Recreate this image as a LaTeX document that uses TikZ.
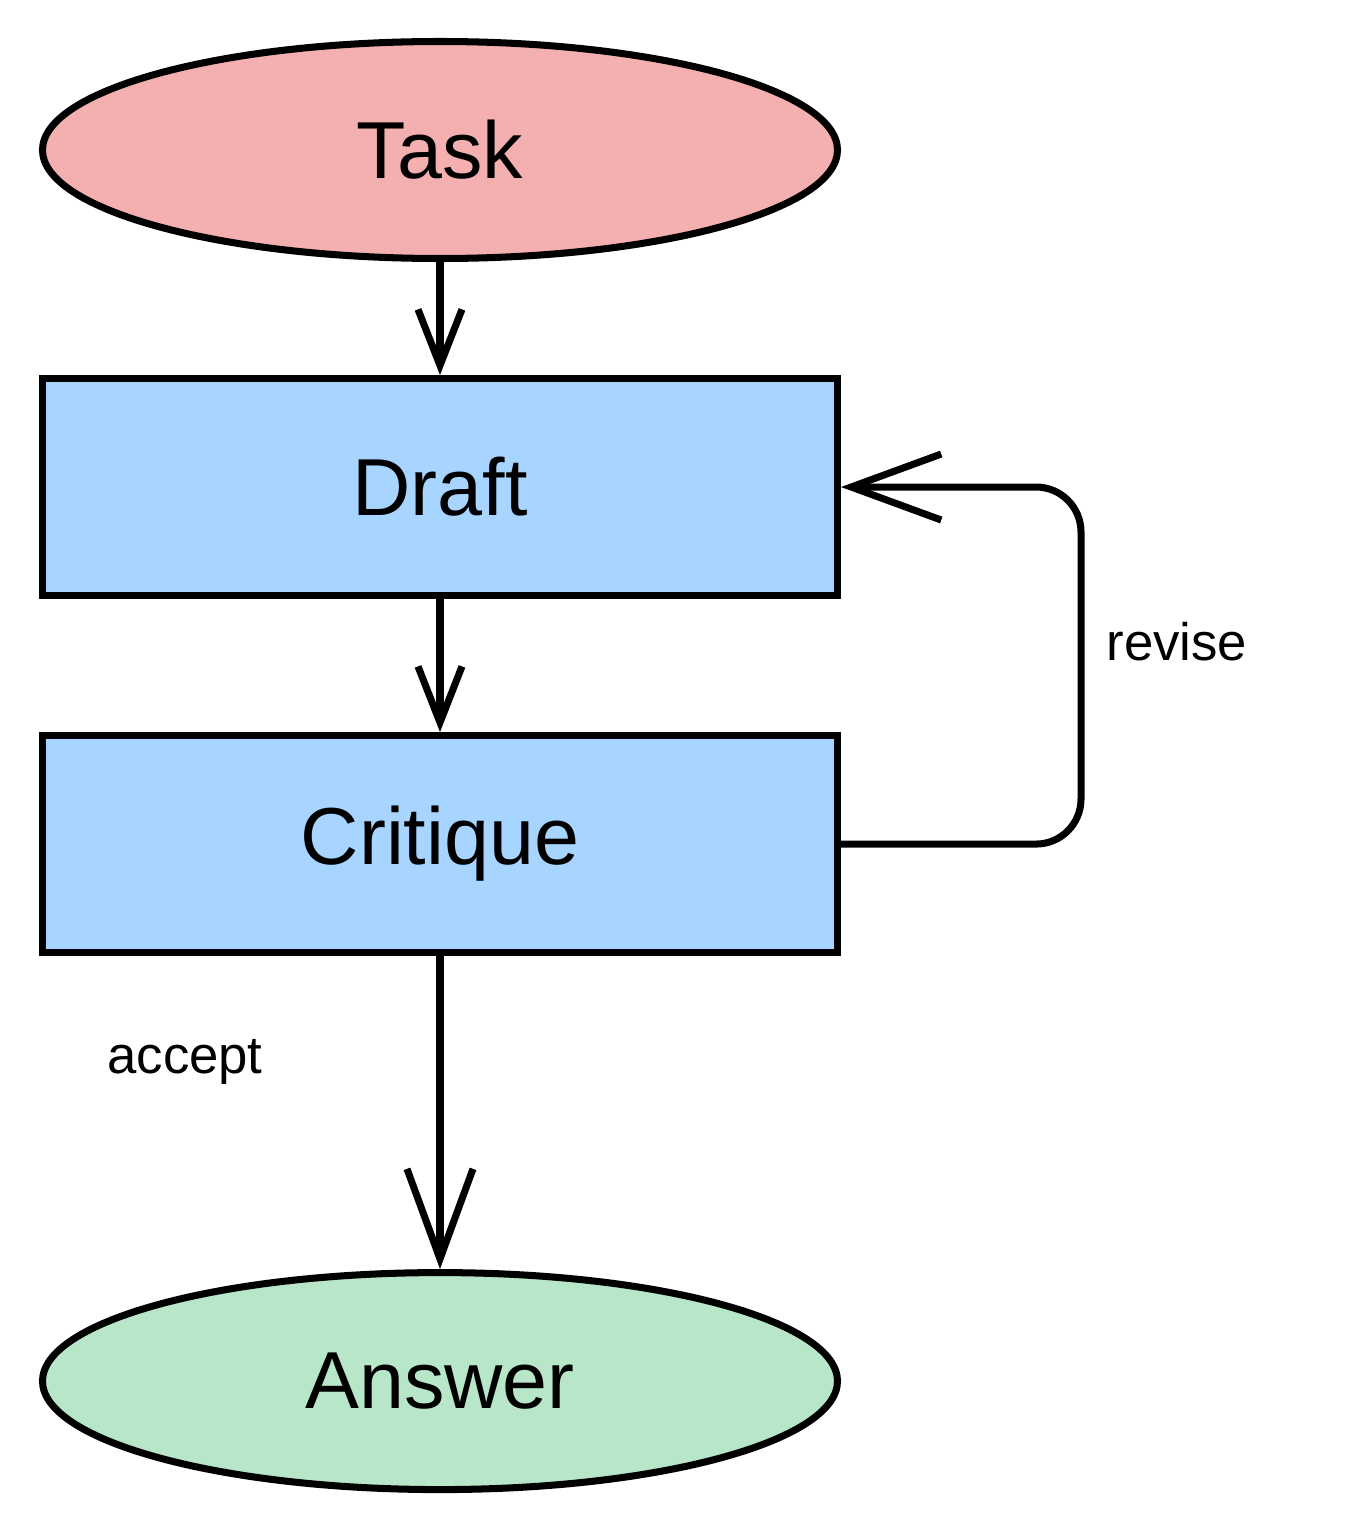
\documentclass[tikz,border=0pt]{standalone}
\usepackage{fontspec}
\setmainfont{Liberation Sans}
\usetikzlibrary{shapes.geometric}
\usetikzlibrary{arrows.meta}
\usetikzlibrary{positioning}
\definecolor{taskred}{HTML}{F4B0B0}
\definecolor{stepblue}{HTML}{A8D5FF}
\definecolor{answergreen}{HTML}{B8E6C8}
\tikzset{
	terminal/.style={ellipse, draw, line width=2pt, minimum width=7.95cm, minimum height=2.17cm, inner sep=0pt, font=\fontsize{23}{28}\selectfont},
	stage/.style={rectangle, draw, line width=2pt, fill=stepblue, minimum width=7.95cm, minimum height=2.17cm, inner sep=0pt, font=\fontsize{23}{28}\selectfont},
	arrow/.style={draw, line width=2pt, -{Straight Barb[length=5.6mm, width=4.4mm]}},
	bigarrow/.style={draw, line width=2pt, -{Straight Barb[length=9mm, width=6.6mm]}, rounded corners=0.45cm},
	edgelabel/.style={font=\fontsize{15}{18}\selectfont}
}
\begin{document}
\begin{tikzpicture}
\useasboundingbox (0,0) rectangle (13.48,15.4);
\node[terminal, fill=taskred] (task) at (4.4,13.9) {Task};

\node[stage, below = 1.13cm of task] (draft) {Draft};
\node[stage, below = 1.33cm of draft] (critique) {Critique};

\node[terminal, fill=answergreen, below = 3.13cm of critique] (answer) {Answer};

\coordinate[right = 2.4cm of critique.east] (loopbottom);

\draw [arrow] (task) -- (draft);
\draw [arrow] (draft) -- (critique);
\draw [bigarrow] (critique) -- (answer);
\draw [bigarrow] (critique.east) -- (loopbottom) |- (draft.east);

\node[edgelabel] (revise) at (11.77,8.98) {revise};
\node[edgelabel] (accept) at (1.85,4.78) {accept};
\end{tikzpicture}
\end{document}
